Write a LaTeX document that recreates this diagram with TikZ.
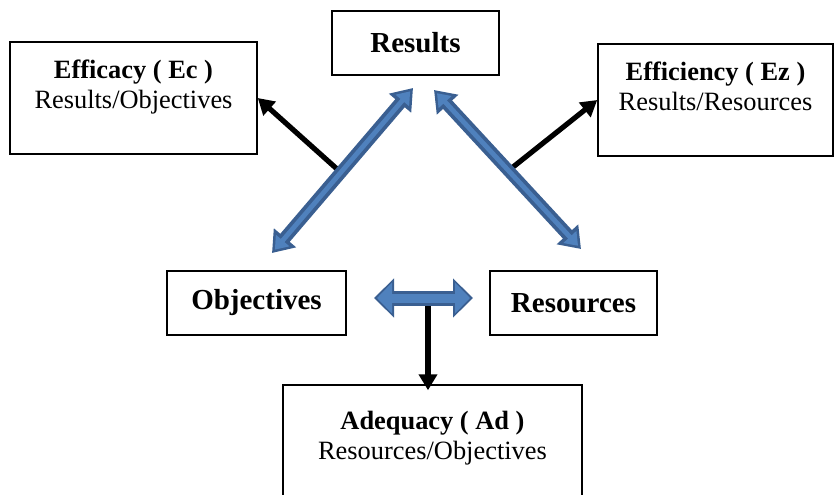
\documentclass[tikz,border=0pt]{standalone}
\usepackage{fontspec}
\setmainfont{Liberation Serif}
\usepackage{xcolor}
\usetikzlibrary{arrows.meta,positioning}
\definecolor{pipedark}{RGB}{58,95,145}
\definecolor{pipelight}{RGB}{79,129,189}
\begin{document}
\begin{tikzpicture}[x=0.5pt,y=-0.5pt,
    box/.style={draw,line width=0.75pt,inner sep=0pt},
    title/.style={font=\fontsize{14.5}{17}\selectfont\bfseries},
    info/.style={font=\fontsize{13.2}{15}\selectfont,align=center,inner sep=0pt,anchor=north},
    link/.style={line width=2.6pt,-{Triangle[width=9pt,length=8pt]}},
    pipeout/.style={draw=pipedark,line width=6.2pt,{Triangle[width=14pt,length=10pt]}-{Triangle[width=14pt,length=10pt]}},
    pipein/.style={draw=pipelight,line width=2.4pt,shorten <=2.2pt,shorten >=2.2pt,{Triangle[width=8.5pt,length=6pt]}-{Triangle[width=8.5pt,length=6pt]}},
    flatout/.style={draw=pipedark,line width=7.5pt,{Triangle[width=19pt,length=10pt]}-{Triangle[width=19pt,length=10pt]}},
    flatin/.style={draw=pipelight,line width=4.5pt,shorten <=1.5pt,shorten >=1.5pt,{Triangle[width=15pt,length=7.5pt]}-{Triangle[width=15pt,length=7.5pt]}}]
    \useasboundingbox (0,0) rectangle (834,494);
    \clip (0,0) rectangle (834,494);
    \node[box,title,minimum width=83.5pt,minimum height=32pt] (results) at (415.5,43) {Results};
    \node[box,title,minimum width=89.5pt,minimum height=32pt] (objectives) at (256.5,303) {Objectives};
    \node[box,title,minimum width=83.5pt,minimum height=32pt] (resources) at (573.5,303) {Resources};
    \node[box,minimum width=123.5pt,minimum height=56pt] (efficacy) at (133.5,98) {};
    \node[box,minimum width=117.5pt,minimum height=56pt] (efficiency) at (715.5,100) {};
    \node[box,minimum width=149.5pt,minimum height=60pt] (adequacy) at (432.5,445) {};
    \node[info,below=9pt of efficacy.north] (efficacytext) {\textbf{Efficacy ( Ec )}\\Results/Objectives};
    \node[info,below=9pt of efficiency.north] (efficiencytext) {\textbf{Efficiency ( Ez )}\\Results/Resources};
    \node[info,below=13.5pt of adequacy.north] (adequacytext) {\textbf{Adequacy ( Ad )}\\Resources/Objectives};
    \coordinate (objtip) at (272,253);
    \coordinate (upL) at (413,88);
    \coordinate (upR) at (434,90);
    \coordinate (srctip) at (581,249);
    \coordinate (hL) at (374,298);
    \coordinate (hR) at (473,298);
    \coordinate (ecstart) at (337,169);
    \coordinate (ezstart) at (513,167);
    \coordinate (adstart) at (428,306);
    \draw[link] (ecstart) -- (efficacy.east);
    \draw[link] (ezstart) -- (efficiency.west);
    \draw[pipeout] (objtip) -- (upL);
    \draw[pipein] (objtip) -- (upL);
    \draw[pipeout] (upR) -- (srctip);
    \draw[pipein] (upR) -- (srctip);
    \draw[flatout] (hL) -- (hR);
    \draw[flatin] (hL) -- (hR);
    \draw[link] (adstart) -- ([yshift=-3pt]adstart |- adequacy.north);
\end{tikzpicture}
\end{document}
